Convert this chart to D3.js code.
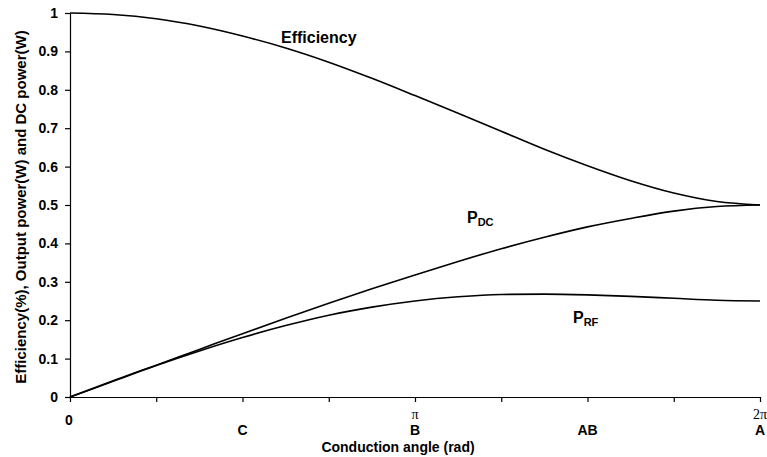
<!DOCTYPE html>
<html>
<head>
<meta charset="utf-8">
<script src="https://cdn.jsdelivr.net/npm/d3@7"></script>
<style>
  body { margin: 0; background: #fff; }
  svg { font-family: "Liberation Sans", Arial, sans-serif; }
  .axis text { font-weight: bold; font-size: 14px; fill: #000; }
  .axis path, .axis line { stroke: #000; stroke-width: 1.2; }
  .line { fill: none; stroke: #000; stroke-width: 1.6; }
  .lbl { font-weight: bold; fill: #000; }
</style>
</head>
<body>
<div id="chart"></div>
<script>
// conduction angle, in multiples of pi
const angles = [0, 0.125, 0.25, 0.375, 0.5, 0.625, 0.75, 0.875, 1,
  1.125, 1.25, 1.375, 1.5, 1.625, 1.75, 1.875, 2];
const efficiency = [1.0, 0.996, 0.985, 0.966, 0.94, 0.909, 0.872, 0.83, 0.785,
  0.739, 0.692, 0.645, 0.602, 0.563, 0.531, 0.509, 0.5];
const pDC = [0, 0.042, 0.083, 0.124, 0.165, 0.205, 0.244, 0.282, 0.318,
  0.353, 0.386, 0.416, 0.443, 0.465, 0.484, 0.496, 0.5];
const pRF = [0, 0.041, 0.082, 0.12, 0.155, 0.186, 0.213, 0.234, 0.25,
  0.261, 0.267, 0.268, 0.266, 0.262, 0.257, 0.252, 0.25];
const yTicks = [0, 0.1, 0.2, 0.3, 0.4, 0.5, 0.6, 0.7, 0.8, 0.9, 1];
const xTicks = [0, 0.25, 0.5, 0.75, 1, 1.25, 1.5, 1.75, 2];
const xTickLabels = [{ at: 1, text: 'π' }, { at: 2, text: '2π' }];
const classLabels = [{ at: 0.5, text: 'C' }, { at: 1, text: 'B' }, { at: 1.5, text: 'AB' }, { at: 2, text: 'A' }];

const width = 767, height = 457;
const margin = { top: 13, right: 7, bottom: 60, left: 70 };

const x = d3.scaleLinear().domain([0, 2]).range([margin.left, width - margin.right]);
const y = d3.scaleLinear().domain([0, 1]).range([height - margin.bottom, margin.top]);

const svg = d3.select('#chart').append('svg')
  .attr('width', width)
  .attr('height', height);

// x axis
svg.append('g')
  .attr('class', 'axis')
  .attr('transform', `translate(0, ${y(0)})`)
  .call(d3.axisBottom(x).tickValues(xTicks).tickSize(5).tickSizeOuter(0).tickFormat(''));

// y axis
svg.append('g')
  .attr('class', 'axis')
  .attr('transform', `translate(${x(0)}, 0)`)
  .call(d3.axisLeft(y).tickValues(yTicks).tickSize(5).tickSizeOuter(0).tickPadding(7)
    .tickFormat(d => d3.format('')(d)));

// x tick labels
svg.append('text')
  .attr('class', 'lbl')
  .attr('x', x(0) - 1)
  .attr('y', y(0) + 28)
  .attr('text-anchor', 'middle')
  .style('font-size', '14px')
  .text('0');

svg.selectAll('.pi')
  .data(xTickLabels)
  .enter().append('text')
  .attr('class', 'pi')
  .attr('x', d => x(d.at))
  .attr('y', y(0) + 22)
  .attr('text-anchor', 'middle')
  .style('font-family', '"Liberation Serif", "Times New Roman", serif')
  .style('font-size', '14px')
  .text(d => d.text);

svg.selectAll('.cls')
  .data(classLabels)
  .enter().append('text')
  .attr('class', 'lbl cls')
  .attr('x', d => x(d.at))
  .attr('y', y(0) + 38)
  .attr('text-anchor', 'middle')
  .style('font-size', '14px')
  .text(d => d.text);

// axis titles
svg.append('text')
  .attr('class', 'lbl')
  .attr('x', 398)
  .attr('y', y(0) + 55)
  .attr('text-anchor', 'middle')
  .style('font-size', '14px')
  .text('Conduction angle (rad)');

svg.append('text')
  .attr('class', 'lbl')
  .attr('transform', `translate(26, ${(y(0) + y(1)) / 2 + 2}) rotate(-90)`)
  .attr('text-anchor', 'middle')
  .style('font-size', '15px')
  .text('Efficiency(%), Output power(W) and DC power(W)');

// curves
const series = [efficiency, pDC, pRF];
const line = d3.line()
  .x((d, i) => x(angles[i]))
  .y(d => y(d))
  .curve(d3.curveMonotoneX);

svg.selectAll('.line')
  .data(series)
  .enter().append('path')
  .attr('class', 'line')
  .attr('d', line);

// curve labels
svg.append('text')
  .attr('class', 'lbl')
  .attr('x', 281)
  .attr('y', 43)
  .style('font-size', '16px')
  .text('Efficiency');

const sub = (px, py, main, s) => {
  const t = svg.append('text')
    .attr('class', 'lbl')
    .attr('x', px)
    .attr('y', py)
    .style('font-size', '16px');
  t.append('tspan').text(main);
  t.append('tspan').attr('dy', 3).style('font-size', '11px').text(s);
};
sub(467, 223, 'P', 'DC');
sub(573, 323, 'P', 'RF');
</script>
</body>
</html>
